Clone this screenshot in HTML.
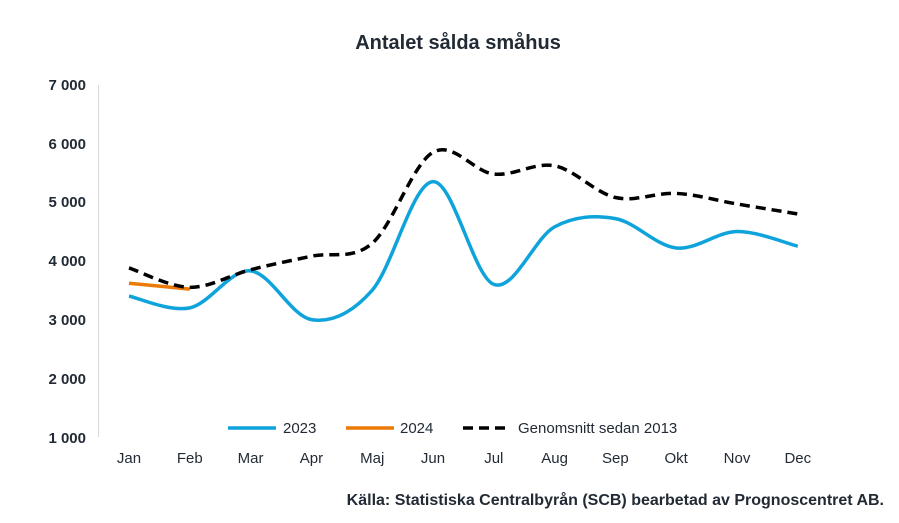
<!DOCTYPE html>
<html><head><meta charset="utf-8"><style>
body{margin:0;background:#fff;}
svg{display:block;font-family:"Liberation Sans",Arial,sans-serif;}
</style></head><body>
<svg id="s" width="899" height="523" viewBox="0 0 899 523">
<text x="458" y="49" text-anchor="middle" font-size="20" font-weight="bold" fill="#222b35">Antalet sålda småhus</text>
<line x1="98.5" y1="85" x2="98.5" y2="437" stroke="#d9d9d9" stroke-width="1"/>
<g font-size="15" font-weight="bold" fill="#222b35" text-anchor="end">
<text x="86" y="90">7 000</text><text x="86" y="149">6 000</text><text x="86" y="207">5 000</text>
<text x="86" y="266">4 000</text><text x="86" y="325">3 000</text><text x="86" y="384">2 000</text>
<text x="86" y="443">1 000</text></g>
<g font-size="15" fill="#222b35" text-anchor="middle" id="xl"></g>
<g id="lines"></g>
<g font-size="15" fill="#222b35">
<line x1="228" y1="428" x2="276" y2="428" stroke="#0fa3dc" stroke-width="3.5"/><text x="283" y="433">2023</text>
<line x1="346" y1="428" x2="394" y2="428" stroke="#ec7a08" stroke-width="3.5"/><text x="400" y="433">2024</text>
<line x1="463" y1="428" x2="511" y2="428" stroke="#000" stroke-width="3.5" stroke-dasharray="10,6"/><text x="518" y="433">Genomsnitt sedan 2013</text>
</g>
<text x="884" y="505" text-anchor="end" font-size="16" font-weight="bold" fill="#222b35">Källa: Statistiska Centralbyrån (SCB) bearbetad av Prognoscentret AB.</text>
</svg>
<script>
var m=["Jan","Feb","Mar","Apr","Maj","Jun","Jul","Aug","Sep","Okt","Nov","Dec"];
function X(i){return 129+i*60.8;}
function Y(v){return 437-(v-1000)*0.0587;}
var xl=document.getElementById("xl"),h="";
m.forEach(function(t,i){h+='<text x="'+X(i)+'" y="463">'+t+'</text>';});
xl.innerHTML=h;
function path(d){var p=d.map(function(v,i){return[X(i),Y(v)];});var s="M"+p[0][0]+","+p[0][1];
for(var i=0;i<p.length-1;i++){var p0=p[i-1]||p[i],p1=p[i],p2=p[i+1],p3=p[i+2]||p2;var t=6;
s+=" C"+(p1[0]+(p2[0]-p0[0])/t)+","+(p1[1]+(p2[1]-p0[1])/t)+" "+(p2[0]-(p3[0]-p1[0])/t)+","+(p2[1]-(p3[1]-p1[1])/t)+" "+p2[0]+","+p2[1];}return s;}
var a=[3880,3550,3850,4080,4300,5850,5480,5620,5080,5150,4970,4800];
var b=[3400,3200,3830,3000,3500,5350,3600,4580,4720,4220,4500,4250];
var c=[3620,3520];
document.getElementById("lines").innerHTML=
'<path d="'+path(b)+'" fill="none" stroke="#0fa3dc" stroke-width="3.5"/>'+
'<path d="'+path(c)+'" fill="none" stroke="#ec7a08" stroke-width="3.5"/>'+
'<path d="'+path(a)+'" fill="none" stroke="#000" stroke-width="3.5" stroke-dasharray="10,6"/>';
</script>
</body></html>
